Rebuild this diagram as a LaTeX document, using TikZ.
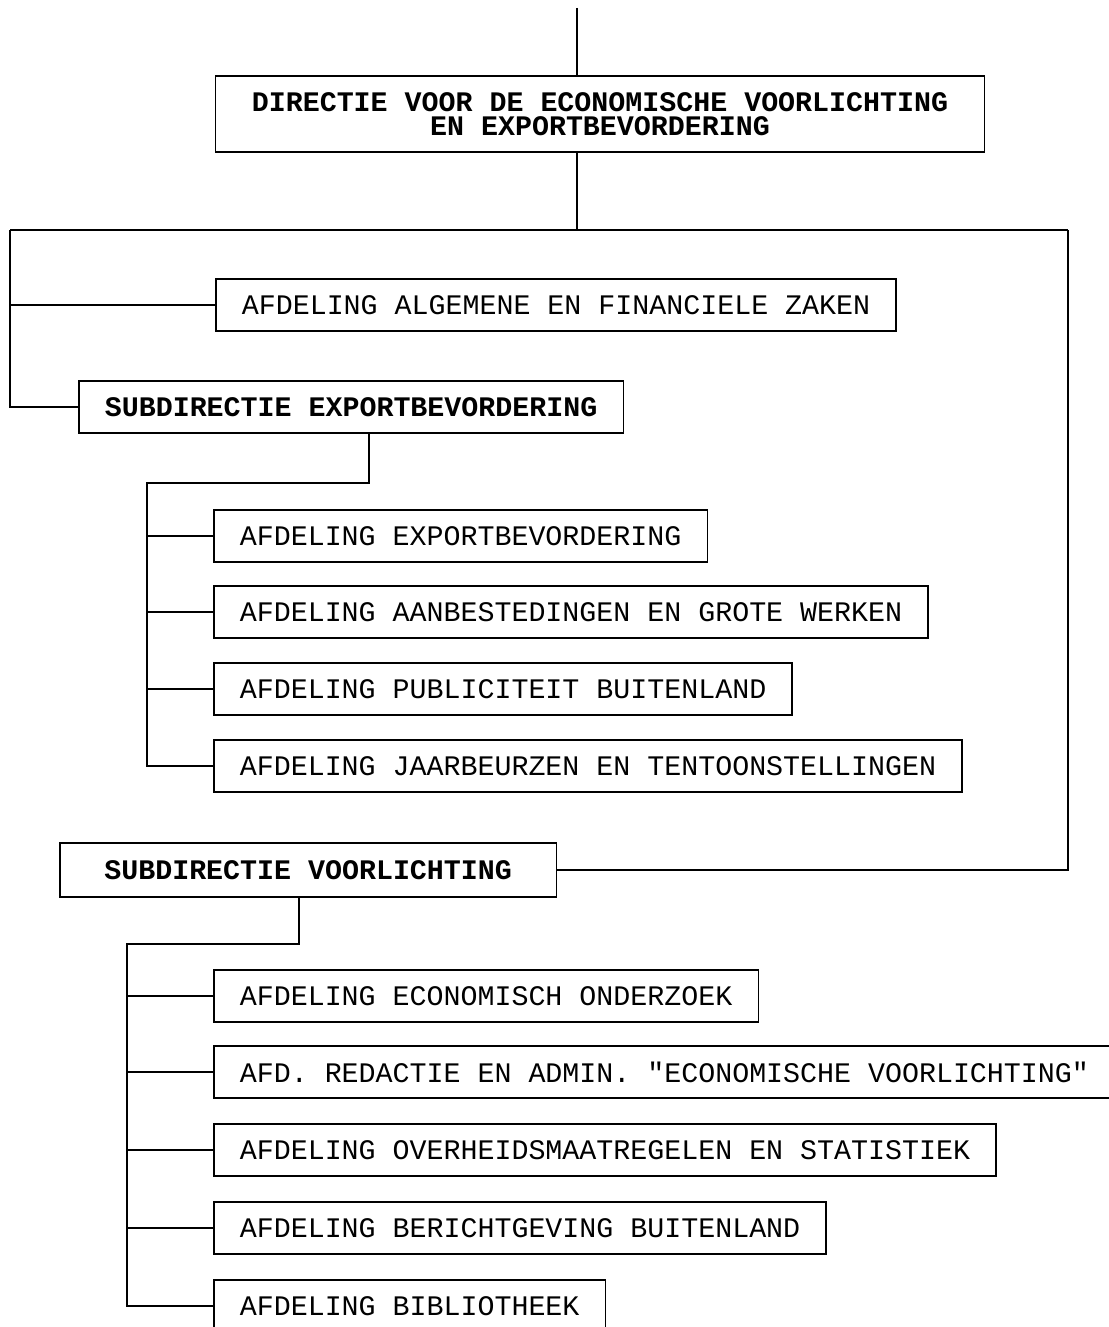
\documentclass[tikz,border=0pt]{standalone}
\usepackage{fontspec}
\setmonofont{Liberation Mono}
\begin{document}
\begin{tikzpicture}[x=1pt,y=-1pt,
  every node/.style={font=\ttfamily\fontsize{28.3}{24}\selectfont},
  afd/.style={draw, line width=1.7pt, anchor=west, inner xsep=26pt, minimum height=52pt, inner ysep=0pt},
  sub/.style={afd, font=\ttfamily\bfseries\fontsize{28.3}{24}\selectfont},
  conn/.style={line width=1.7pt}]
\useasboundingbox (0,0) rectangle (1108,1327);
\fill[white] (0,0) rectangle (1108,1327);
% top
\node[draw, line width=1.7pt, minimum width=769pt, minimum height=76pt, align=center,
      font=\ttfamily\bfseries\fontsize{28.3}{24}\selectfont] (dir) at (600,114)
  {DIRECTIE VOOR DE ECONOMISCHE VOORLICHTING\\EN EXPORTBEVORDERING};
\node[afd] (alg) at (215,305) {AFDELING ALGEMENE EN FINANCIELE ZAKEN};
\node[sub] (sube) at (78,407) {SUBDIRECTIE EXPORTBEVORDERING};
\node[afd] (afex) at (213,536) {AFDELING EXPORTBEVORDERING};
\node[afd] (aanb) at (213,612) {AFDELING AANBESTEDINGEN EN GROTE WERKEN};
\node[afd] (publ) at (213,689) {AFDELING PUBLICITEIT BUITENLAND};
\node[afd] (jaar) at (213,766) {AFDELING JAARBEURZEN EN TENTOONSTELLINGEN};
\node[sub, inner xsep=44.5pt, minimum height=54pt] (subv) at (59,870) {SUBDIRECTIE VOORLICHTING};
\node[afd] (econ) at (213,996) {AFDELING ECONOMISCH ONDERZOEK};
\node[afd] (red) at (213,1072) {AFD. REDACTIE EN ADMIN. "ECONOMISCHE VOORLICHTING"};
\node[afd] (over) at (213,1150) {AFDELING OVERHEIDSMAATREGELEN EN STATISTIEK};
\node[afd] (ber) at (213,1228) {AFDELING BERICHTGEVING BUITENLAND};
\node[afd] (bib) at (213,1306) {AFDELING BIBLIOTHEEK};
% coordinates
\coordinate (t) at (577,8);
\coordinate (j) at (577,230);
\coordinate (L) at (10,230);
\coordinate (R) at (1068,230);
\coordinate (b1) at (369,483);
\coordinate (b1l) at (147,483);
\coordinate (b2) at (299,944);
\coordinate (b2l) at (127,944);
% connectors
\draw[conn] (t) -- (t |- dir.north);
\draw[conn] (t |- dir.south) -- (j);
\draw[conn] (L) -- (R);
\draw[conn] (L) |- (sube.west);
\draw[conn] (L |- alg.west) -- (alg.west);
\draw[conn] (R) |- (subv.east);
\draw[conn] (b1 |- sube.south) -- (b1) -- (b1l) |- (jaar.west);
\draw[conn] (b1l |- afex.west) -- (afex.west);
\draw[conn] (b1l |- aanb.west) -- (aanb.west);
\draw[conn] (b1l |- publ.west) -- (publ.west);
\draw[conn] (b2 |- subv.south) -- (b2) -- (b2l) |- (bib.west);
\draw[conn] (b2l |- econ.west) -- (econ.west);
\draw[conn] (b2l |- red.west) -- (red.west);
\draw[conn] (b2l |- over.west) -- (over.west);
\draw[conn] (b2l |- ber.west) -- (ber.west);
\end{tikzpicture}
\end{document}
